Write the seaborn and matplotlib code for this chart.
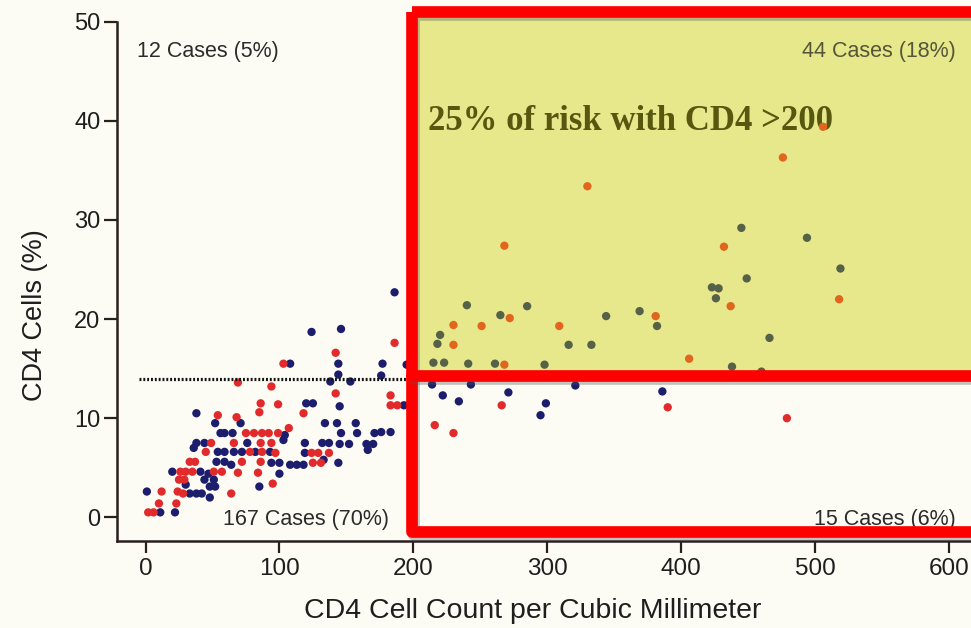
import matplotlib
matplotlib.use("Agg")
import matplotlib.pyplot as plt
import matplotlib.patheffects as pe
from matplotlib.patches import Rectangle
from matplotlib.lines import Line2D
from matplotlib.transforms import Affine2D
import pandas as pd
import seaborn as sns

# CD4 cell count (cells/mm3) and CD4 percentage, two patient groups
group_a_count = [445, 494, 519, 449, 423, 428, 426, 369, 382, 466, 438, 460,
                 240, 285, 265, 344, 220, 218, 316, 333, 215, 223, 241, 261, 298,
                 214, 243, 321, 222, 271, 234, 299, 295, 386,
                 186, 124, 146, 108, 144, 177, 195, 144, 176, 138, 153, 120, 125,
                 193, 145, 38, 52, 71, 134, 143, 157, 146, 158, 171, 176, 183,
                 104, 103, 119, 132, 137, 145, 152, 165, 170, 166, 119, 133, 144,
                 94, 100, 108, 113, 118, 100, 85, 56, 59, 65, 38, 44, 76, 36, 54,
                 59, 66, 72, 82, 93, 53, 59, 64, 20, 41, 47, 44, 51, 30, 48, 52,
                 1, 33, 38, 42, 48, 11, 22]
group_a_pct = [29.2, 28.2, 25.1, 24.1, 23.2, 23.1, 22.1, 20.8, 19.3, 18.1, 15.2, 14.7,
               21.4, 21.3, 20.4, 20.3, 18.4, 17.5, 17.4, 17.4, 15.6, 15.6, 15.5, 15.5, 15.4,
               13.4, 13.4, 13.3, 12.3, 12.6, 11.7, 11.5, 10.3, 12.7,
               22.7, 18.7, 19.0, 15.5, 15.5, 15.5, 15.4, 14.4, 14.3, 13.7, 13.7, 11.5, 11.5,
               11.3, 11.2, 10.5, 9.5, 9.5, 9.5, 9.5, 9.5, 8.5, 8.5, 8.5, 8.6, 8.6,
               8.3, 7.8, 7.5, 7.5, 7.5, 7.4, 7.4, 7.4, 7.4, 6.8, 6.5, 5.8, 5.5,
               5.5, 5.5, 5.3, 5.3, 5.3, 4.4, 3.1, 8.5, 8.5, 8.5, 7.5, 7.5, 7.5, 7.0, 6.6,
               6.6, 6.6, 6.6, 6.6, 6.6, 5.6, 5.6, 5.3, 4.6, 4.6, 4.4, 3.8, 3.8, 3.3, 3.1, 3.1,
               2.6, 2.4, 2.4, 2.4, 2.0, 0.5, 0.5]

group_b_count = [506, 476, 330, 268, 432, 518, 437, 381, 406, 272, 230, 251, 309, 230, 268,
                 266, 216, 230, 390, 479,
                 186, 142, 103, 69, 94, 142, 183, 86, 99, 183, 188, 85, 118, 54, 68, 107,
                 75, 81, 87, 92, 99, 49, 66, 86, 94, 45, 78, 87, 97, 124, 129, 137,
                 33, 37, 72, 86, 125, 131, 26, 30, 35, 51, 57, 69, 84, 25, 29, 95,
                 12, 24, 28, 64, 10, 23, 2, 6]
group_b_pct = [39.4, 36.3, 33.4, 27.4, 27.3, 22.0, 21.3, 20.3, 16.0, 20.1, 19.4, 19.3, 19.3, 17.4, 15.4,
               11.3, 9.3, 8.5, 11.1, 10.0,
               17.6, 16.6, 15.5, 13.6, 13.2, 12.5, 12.3, 11.5, 11.4, 11.3, 11.3, 10.6, 10.5, 10.3, 10.1, 9.0,
               8.5, 8.5, 8.5, 8.5, 8.5, 7.5, 7.5, 7.5, 7.5, 6.6, 6.6, 6.6, 6.5, 6.5, 6.5, 6.5,
               5.6, 5.6, 5.6, 5.6, 5.5, 5.5, 4.6, 4.6, 4.6, 4.6, 4.6, 4.5, 4.5, 3.8, 3.8, 3.4,
               2.6, 2.6, 2.4, 2.4, 1.4, 1.4, 0.5, 0.5]

x_ticks = [0, 100, 200, 300, 400, 500, 600]
y_ticks = [0, 10, 20, 30, 40, 50]
pct_cutoff = 14
quadrant_labels = ["12 Cases (5%)", "44 Cases (18%)", "167 Cases (70%)", "15 Cases (6%)"]
risk_note = "25% of risk with CD4 >200"
x_label = "CD4 Cell Count per Cubic Millimeter"
y_label = "CD4 Cells (%)"

W, H = 971, 628
sns.set_theme(style="white")
plt.rcParams["font.family"] = ["Liberation Sans", "DejaVu Sans"]

bg = "#fdfcf4"
fig = plt.figure(figsize=(W / 100, H / 100), dpi=100, facecolor=bg)
ax = fig.add_axes([117 / W, 1 - 541 / H, 1 - 117 / W, (541 - 21.7) / H])
ax.set_facecolor(bg)

# pixel-space transform (origin top-left) for the annotation overlay
px = Affine2D().scale(1 / W, -1 / H).translate(0, 1) + fig.transFigure

df = pd.DataFrame({
    "count": group_a_count + group_b_count,
    "pct": group_a_pct + group_b_pct,
    "group": ["A"] * len(group_a_count) + ["B"] * len(group_b_count),
})

sns.scatterplot(data=df, x="count", y="pct", hue="group",
                palette={"A": "#1c1d6c", "B": "#e12a2c"},
                s=36, linewidth=0, legend=False, ax=ax, zorder=2)

# dotted reference line at the CD4 % cutoff
ax.plot([-5, 199], [pct_cutoff, pct_cutoff], color="#111111", lw=2.3,
        ls=(0, (0.6, 0.6)), zorder=2.2)

# highlighted region (CD4 count > 200 and CD4 % above cutoff)
hl = Rectangle((418, 18), 600, 353, transform=px, facecolor="#e7e78b",
               edgecolor="none", zorder=2.5, clip_on=False)
ax.add_patch(hl)

sns.scatterplot(data=df, x="count", y="pct", hue="group",
                palette={"A": "#566248", "B": "#e0661e"},
                s=36, linewidth=0, legend=False, ax=ax, zorder=3)
ax.collections[-1].set_clip_path(hl)

ax.text(428, 122, risk_note, transform=px, fontsize=25, fontweight="bold",
        family="Liberation Serif", color="#585710", va="center", ha="left",
        zorder=2.8)

# red frame around the region with CD4 count > 200
shadow = [pe.SimpleLineShadow(offset=(1.5, -2.5), shadow_color="#555555", alpha=0.35),
          pe.Normal()]
frame = Rectangle((412, 12), 600, 520, transform=px, fill=False,
                  edgecolor="#ff0000", lw=8.4, joinstyle="round",
                  zorder=5, clip_on=False, path_effects=shadow)
ax.add_patch(frame)
divider = Line2D([412, 1010], [376, 376], transform=px, color="#ff0000",
                 lw=8.4, zorder=5, clip_on=False, path_effects=shadow)
ax.add_line(divider)

# quadrant case counts
ax.text(137, 51, quadrant_labels[0], transform=px, fontsize=15.5,
        color="#2b2b2b", va="center", ha="left", zorder=4)
ax.text(956, 51, quadrant_labels[1], transform=px, fontsize=15.5,
        color="#55553a", va="center", ha="right", zorder=4)
ax.text(223, 519, quadrant_labels[2], transform=px, fontsize=15.5,
        color="#2b2b2b", va="center", ha="left", zorder=4)
ax.text(956, 519, quadrant_labels[3], transform=px, fontsize=15.5,
        color="#2b2b2b", va="center", ha="right", zorder=4)

ax.set_xlim(-21.3, 616.5)
ax.set_ylim(-2.39, 50)
ax.set_xticks(x_ticks)
ax.set_yticks(y_ticks)
ax.set_xticklabels([str(v) for v in x_ticks])
ax.set_yticklabels([str(v) for v in y_ticks])

for side in ("top", "right"):
    ax.spines[side].set_visible(False)
for side in ("left", "bottom"):
    ax.spines[side].set_color("#2a1f1f")
    ax.spines[side].set_linewidth(1.8)

ax.tick_params(axis="y", direction="out", length=9.5, width=1.6,
               color="#2a1f1f", pad=2.5, labelsize=17, labelcolor="#1e1e1e", left=True)
ax.tick_params(axis="x", direction="out", length=8.5, width=1.6,
               color="#2a1f1f", pad=3.5, labelsize=17.5, labelcolor="#1e1e1e", bottom=True)

ax.set_xlabel(x_label, fontsize=20.5, color="#1e1e1e", va="center")
ax.set_ylabel(y_label, fontsize=19.5, color="#1e1e1e", va="center")
ax.xaxis.set_label_coords((533 - 117) / 854, (541 - 611) / 519.3)
ax.yaxis.set_label_coords((35 - 117) / 854, (541 - 315) / 519.3)

fig.savefig("out.png", dpi=100, facecolor=bg)
